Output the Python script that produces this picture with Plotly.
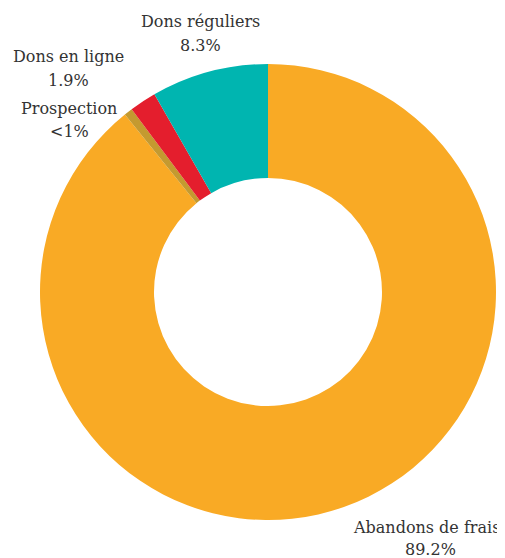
import plotly.graph_objects as go

categories = ["Abandons de frais", "Prospection", "Dons en ligne", "Dons réguliers"]
values = [89.2, 0.6, 1.9, 8.3]
value_labels = ["89.2%", "<1%", "1.9%", "8.3%"]
colors = ["#F9AA25", "#C49A30", "#E41E2D", "#00B5B0"]

OFF = 8  # page body margin offset
W, H = 505 - OFF, 558
cx, cy, R = 268 - OFF, 292 - OFF, 228

fig = go.Figure(go.Pie(
    labels=categories,
    values=values,
    sort=False,
    direction="clockwise",
    rotation=0,
    hole=0.5,
    marker=dict(colors=colors, line=dict(width=0)),
    textinfo="none",
    hoverinfo="label+percent",
    showlegend=False,
    domain=dict(x=[(cx - R) / W, (cx + R) / W], y=[1 - (cy + R) / H, 1 - (cy - R) / H]),
))

# label positions in reference pixels: (x, anchor, y of name line, x of value, y of value line)
label_pos = {
    "Abandons de frais": (502, "right", 527, 430, 549),
    "Prospection": (69, "center", 108, 69, 131),
    "Dons en ligne": (68, "center", 56, 68, 80),
    "Dons réguliers": (200, "center", 21, 200, 45),
}
font = dict(family="DejaVu Serif", size=16, color="#333333")
for cat, vl in zip(categories, value_labels):
    x1, anc, y1, x2, y2 = label_pos[cat]
    for txt, xx, a, yy in ((cat, x1, anc, y1), (vl, x2, "center", y2)):
        fig.add_annotation(
            x=(xx - OFF) / W, y=1 - (yy - OFF) / H, xref="paper", yref="paper",
            text=txt, showarrow=False, font=font,
            xanchor=a, yanchor="middle",
        )

fig.update_layout(
    width=W, height=H,
    margin=dict(l=0, r=0, t=0, b=0),
    paper_bgcolor="white", plot_bgcolor="white",
)
fig.write_html("out.html", config={"displayModeBar": False})
